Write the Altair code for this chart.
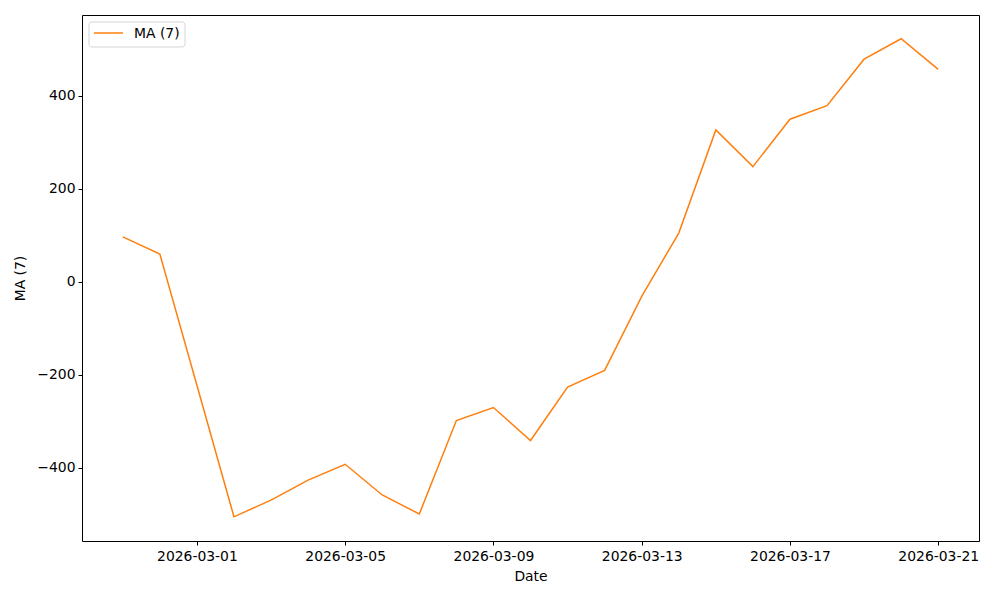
import altair as alt
import pandas as pd

dates = pd.date_range("2026-02-27", "2026-03-21", freq="D").strftime("%Y-%m-%d").tolist()
ma7 = [97, 60, -222, -505, -469, -426, -392, -458, -499, -298, -270, -341,
       -226, -190, -31, 105, 327, 248, 350, 379, 479, 523, 457]
series_name = "MA (7)"

df = pd.DataFrame({"Date": dates, "MA": ma7})
legend_df = pd.DataFrame({"label": [series_name]})

tick_dates = [alt.DateTime(year=2026, month=m, date=d, utc=True)
              for m, d in [(3, 1), (3, 5), (3, 9), (3, 13), (3, 17), (3, 21)]]
x_domain = [alt.DateTime(year=2026, month=2, date=25, hours=21, minutes=36, utc=True),
            alt.DateTime(year=2026, month=3, date=22, hours=2, minutes=24, utc=True)]

font = "DejaVu Sans"
fs = 13.9
orange = "#ff7f0e"

line = alt.Chart(df).mark_line(strokeWidth=1.5, color=orange).encode(
    x=alt.X("Date:T",
            scale=alt.Scale(type="utc", domain=x_domain, nice=False),
            axis=alt.Axis(title="Date", values=tick_dates, labelFlush=False,
                          labelExpr="utcFormat(datum.value, '%Y-%m-%d')")),
    y=alt.Y("MA:Q",
            scale=alt.Scale(domain=[-557, 574], nice=False, zero=False),
            axis=alt.Axis(title="MA (7)", values=[-400, -200, 0, 200, 400],
                          labelExpr="replace(datum.label, '-', '\u2212')")),
)

legend_box = alt.Chart(legend_df).mark_rect(
    fill="white", stroke="#cccccc", strokeWidth=1, cornerRadius=3, opacity=0.8
).encode(x=alt.value(7), x2=alt.value(103), y=alt.value(7), y2=alt.value(32))

legend_line = alt.Chart(legend_df).mark_rule(color=orange, strokeWidth=1.5).encode(
    x=alt.value(12), x2=alt.value(41), y=alt.value(18))

legend_text = alt.Chart(legend_df).mark_text(
    align="left", baseline="middle", font=font, fontSize=fs, color="black"
).encode(x=alt.value(52), y=alt.value(19), text="label:N")

chart = alt.layer(line, legend_box, legend_line, legend_text).properties(
    width=897, height=526,
    autosize=alt.AutoSizeParams(type="none"),
    padding={"left": 74, "top": 7, "right": 5, "bottom": 50},
).configure_view(
    stroke="black", strokeWidth=1
).configure_axis(
    domain=False, grid=False, tickColor="black", tickSize=4, tickWidth=1,
    labelColor="black", labelFont=font, labelFontSize=fs, labelPadding=3,
    titleColor="black", titleFont=font, titleFontSize=fs, titleFontWeight="normal",
).configure_axisX(
    titlePadding=7, labelPadding=4
).configure_axisY(
    titlePadding=9
)

chart.save("out.html", embed_options={"renderer": "svg", "actions": False})
